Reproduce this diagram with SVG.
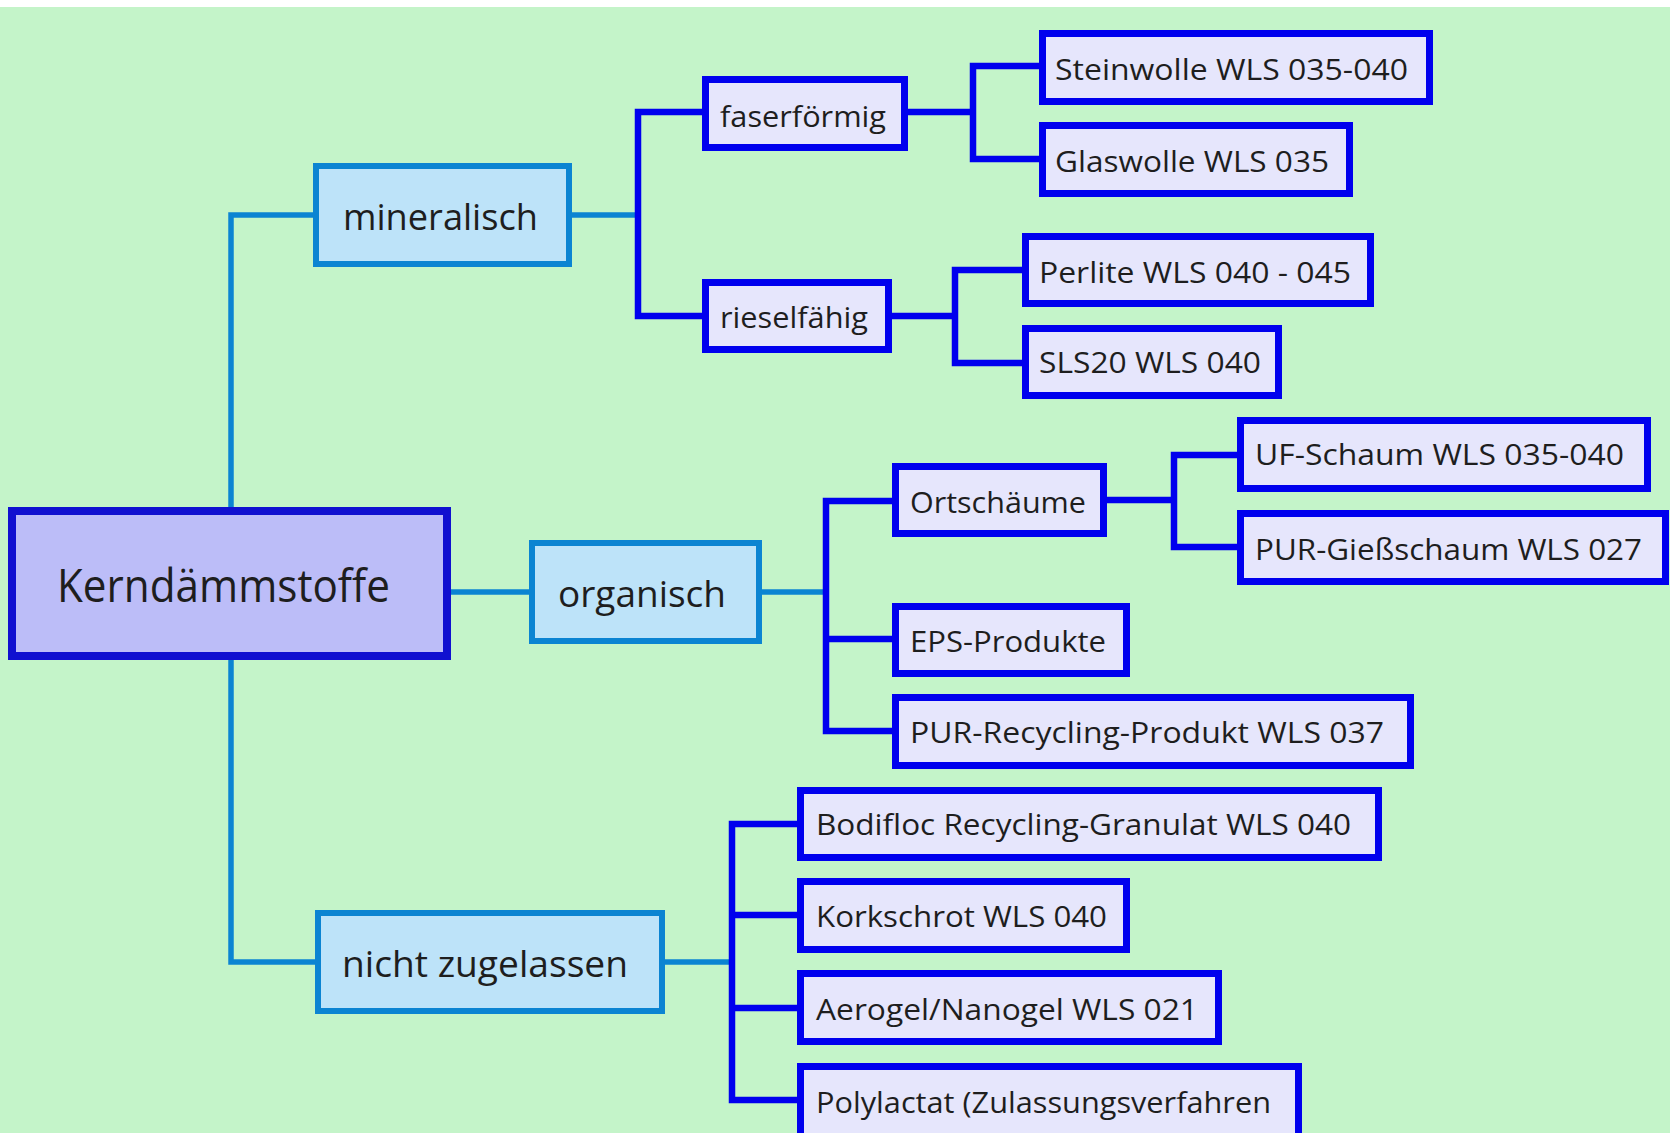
<svg xmlns="http://www.w3.org/2000/svg" width="1670" height="1133" viewBox="0 0 1670 1133">
<style>
.bg{fill:#c4f4c9}
.root rect{fill:#bcbdf8;stroke:#1010d0;stroke-width:8}
.l1 rect{fill:#bde3f9;stroke:#0b84d2;stroke-width:6}
.l2 rect{fill:#e6e6fc;stroke:#0000ee;stroke-width:7}
text{font-family:"Open Sans","Noto Sans","DejaVu Sans",sans-serif;fill:#1e1e1e}
.root text{font-size:46px}
.l1 text{font-size:37px}
.l2 text{font-size:30px}
.cl{fill:none;stroke:#0b84d2;stroke-width:5.5}
.cd{fill:none;stroke:#0000ee;stroke-width:6.5}
</style>
<rect x="0" y="0" width="1670" height="1133" fill="#ffffff"/>
<rect class="bg" x="0" y="7" width="1670" height="1126"/>
<g id="connectors">
<path class="cl" d="M231 507 V215 H316"/>
<path class="cl" d="M451 592 H532"/>
<path class="cl" d="M231 660 V962 H318"/>
<path class="cl" d="M569 215 H638"/>
<path class="cl" d="M759 592 H826"/>
<path class="cl" d="M662 962 H732"/>
<path class="cd" d="M705 112 H638 V316 H705"/>
<path class="cd" d="M905 112 H973"/>
<path class="cd" d="M1042 66 H973 V159 H1042"/>
<path class="cd" d="M889 316 H955"/>
<path class="cd" d="M1025 270 H955 V363 H1025"/>
<path class="cd" d="M895 501 H826 V731 H895"/>
<path class="cd" d="M826 639 H895"/>
<path class="cd" d="M1104 500 H1174"/>
<path class="cd" d="M1240 455 H1174 V547 H1240"/>
<path class="cd" d="M800 824 H732 V1100 H800"/>
<path class="cd" d="M732 915 H800"/>
<path class="cd" d="M732 1008 H800"/>
</g>
<g id="n_root" class="root"><rect x="12" y="511" width="435" height="145"/><text x="57" y="602" textLength="333" lengthAdjust="spacingAndGlyphs">Kerndämmstoffe</text></g>
<g id="n_mineralisch" class="l1"><rect x="316" y="166" width="253" height="98"/><text x="343" y="230" textLength="195" lengthAdjust="spacingAndGlyphs">mineralisch</text></g>
<g id="n_organisch" class="l1"><rect x="532" y="543" width="227" height="98"/><text x="558" y="607" textLength="168" lengthAdjust="spacingAndGlyphs">organisch</text></g>
<g id="n_nicht" class="l1"><rect x="318" y="913" width="344" height="98"/><text x="342" y="977" textLength="286" lengthAdjust="spacingAndGlyphs">nicht zugelassen</text></g>
<g id="n_faser" class="l2"><rect x="705.5" y="79.5" width="199" height="68"/><text x="720" y="127" textLength="166" lengthAdjust="spacingAndGlyphs">faserförmig</text></g>
<g id="n_riesel" class="l2"><rect x="705.5" y="282.5" width="183" height="67"/><text x="720" y="328" textLength="148" lengthAdjust="spacingAndGlyphs">rieselfähig</text></g>
<g id="n_stein" class="l2"><rect x="1042.5" y="33.5" width="387" height="68"/><text x="1055" y="80" textLength="353" lengthAdjust="spacingAndGlyphs">Steinwolle WLS 035-040</text></g>
<g id="n_glas" class="l2"><rect x="1042.5" y="125.5" width="307" height="68"/><text x="1055" y="172" textLength="274" lengthAdjust="spacingAndGlyphs">Glaswolle WLS 035</text></g>
<g id="n_perlite" class="l2"><rect x="1025.5" y="236.5" width="345" height="67"/><text x="1039" y="283" textLength="312" lengthAdjust="spacingAndGlyphs">Perlite WLS 040 - 045</text></g>
<g id="n_sls" class="l2"><rect x="1025.5" y="328.5" width="253" height="67"/><text x="1039" y="373" textLength="222" lengthAdjust="spacingAndGlyphs">SLS20 WLS 040</text></g>
<g id="n_ort" class="l2"><rect x="895.5" y="466.5" width="208" height="67"/><text x="910" y="513" textLength="176" lengthAdjust="spacingAndGlyphs">Ortschäume</text></g>
<g id="n_uf" class="l2"><rect x="1240.5" y="420.5" width="407" height="68"/><text x="1255" y="465" textLength="369" lengthAdjust="spacingAndGlyphs">UF-Schaum WLS 035-040</text></g>
<g id="n_purg" class="l2"><rect x="1240.5" y="513.5" width="425" height="68"/><text x="1255" y="560" textLength="387" lengthAdjust="spacingAndGlyphs">PUR-Gießschaum WLS 027</text></g>
<g id="n_eps" class="l2"><rect x="895.5" y="606.5" width="231" height="67"/><text x="910" y="652" textLength="196" lengthAdjust="spacingAndGlyphs">EPS-Produkte</text></g>
<g id="n_purr" class="l2"><rect x="895.5" y="697.5" width="515" height="68"/><text x="910" y="743" textLength="474" lengthAdjust="spacingAndGlyphs">PUR-Recycling-Produkt WLS 037</text></g>
<g id="n_bodi" class="l2"><rect x="800.5" y="790.5" width="578" height="67"/><text x="816" y="835" textLength="535" lengthAdjust="spacingAndGlyphs">Bodifloc Recycling-Granulat WLS 040</text></g>
<g id="n_kork" class="l2"><rect x="800.5" y="881.5" width="326" height="68"/><text x="816" y="927" textLength="291" lengthAdjust="spacingAndGlyphs">Korkschrot WLS 040</text></g>
<g id="n_aero" class="l2"><rect x="800.5" y="973.5" width="418" height="68"/><text x="816" y="1020" textLength="382" lengthAdjust="spacingAndGlyphs">Aerogel/Nanogel WLS 021</text></g>
<g id="n_poly" class="l2"><rect x="800.5" y="1066.5" width="498" height="70"/><text x="816" y="1113" textLength="455" lengthAdjust="spacingAndGlyphs">Polylactat (Zulassungsverfahren</text></g>
</svg>
